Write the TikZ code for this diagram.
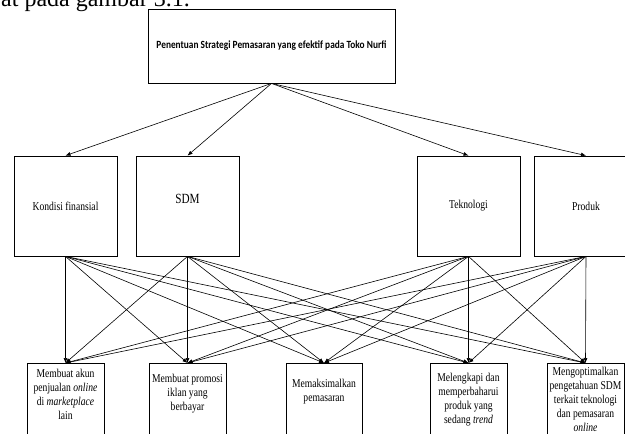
\documentclass[tikz,border=0pt]{standalone}
\usepackage{fontspec}
\setmainfont{Liberation Serif}
\newfontfamily\boxfont{Liberation Serif}[FakeStretch=0.8]
\newfontfamily\titlefont{Carlito}[FakeStretch=0.85]
\usetikzlibrary{arrows.meta}
\begin{document}
\begin{tikzpicture}[x=1pt,y=-1pt,
  box/.style={draw, line width=0.8pt, inner sep=0pt},
  conn/.style={line width=0.6pt, -{Latex[length=5pt,width=4pt]}},
  boxtext/.style={font=\boxfont\fontsize{12}{14}\selectfont, align=center, inner sep=0pt},
]
\useasboundingbox (0,0) rectangle (625,434);
\clip (0,0) rectangle (625,434);
\node[anchor=base west, font=\fontsize{24}{28}\selectfont, inner sep=0pt] (cap) at (1,6.5) {at pada gambar 3.1.};
% top
\node[box, minimum width=247pt, minimum height=74pt, font=\titlefont\bfseries\fontsize{11}{13}\selectfont] (top) at (271.5,46) {Penentuan Strategi Pemasaran yang efektif pada Toko Nurfi};
% middle
\node[box, boxtext, minimum width=103pt, minimum height=100pt] (k) at (65.5,206) {Kondisi finansial};
\node[box, minimum width=103pt, minimum height=100pt] (s) at (187.5,206) {};
\node[font=\boxfont\fontsize{14}{16}\selectfont, inner sep=0pt] (stext) at (187.5,199) {SDM};
\node[box, boxtext, minimum width=103pt, minimum height=100pt] (t) at (468.5,206) {Teknologi};
\node[box, boxtext, minimum width=103pt, minimum height=100pt] (p) at (586,206) {Produk};
% bottom
\node[box, anchor=north, minimum width=77pt, minimum height=80pt] (b1) at (65.5,363) {};
\node[box, anchor=north, minimum width=77pt, minimum height=80pt] (b2) at (187.5,363) {};
\node[box, anchor=north, minimum width=76pt, minimum height=80pt] (b3) at (324,363) {};
\node[box, anchor=north, minimum width=77pt, minimum height=80pt] (b4) at (468.5,363) {};
\node[box, anchor=north, minimum width=77pt, minimum height=80pt] (b5) at (585.5,363) {};
\node[boxtext] (t1) at (65.5,394) {Membuat akun\\penjualan \textit{online}\\di \textit{marketplace}\\lain};
\node[boxtext] (t2) at (187.5,393.5) {Membuat promosi\\iklan yang\\berbayar};
\node[boxtext] (t3) at (324,391.5) {Memaksimalkan\\pemasaran};
\node[boxtext] (t4) at (468.5,400) {Melengkapi dan\\memperbaharui\\produk yang\\sedang \textit{trend}};
\node[boxtext] (t5) at (585.5,399.5) {Mengoptimalkan\\pengetahuan SDM\\terkait teknologi\\dan pemasaran\\\textit{online}};
% connectors
\foreach \m in {k,s,t,p} \draw[conn] (top.south) -- (\m.north);
\foreach \m in {k,s,t,p} \foreach \b in {b1,b2,b3,b4,b5} \draw[conn] (\m.south) -- (\b.north);
\end{tikzpicture}
\end{document}
